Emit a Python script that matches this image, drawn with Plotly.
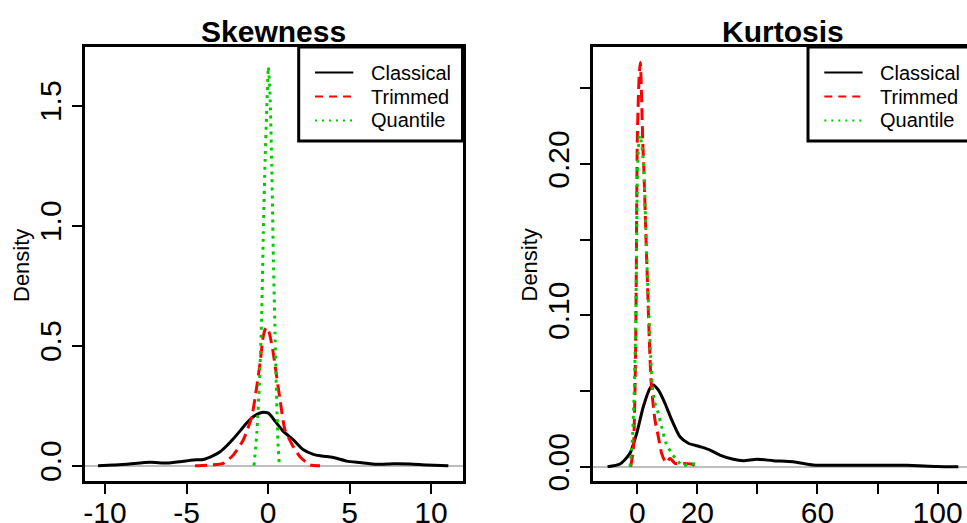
import plotly.graph_objects as go

# ---- Skewness: kernel density estimates of three skewness measures ----
skew_classical_x = [-10.43, -9.5, -8.67, -7.24, -6.21, -5.4, -4.58, -3.97, -3.36, -2.94, -2.5, -2.13,
                    -1.7, -1.31, -0.8, -0.39, 0.02, 0.43, 0.94, 1.55, 2.17, 2.78, 3.2, 3.6, 4.2,
                    4.83, 5.64, 6.67, 7.69, 8.71, 9.74, 11.06]
skew_classical_y = [0.0, 0.003, 0.006, 0.014, 0.011, 0.0165, 0.024, 0.026, 0.042, 0.058, 0.085, 0.112,
                    0.146, 0.178, 0.209, 0.222, 0.219, 0.186, 0.143, 0.108, 0.066, 0.047, 0.041, 0.038,
                    0.031, 0.019, 0.013, 0.0056, 0.008, 0.007, 0.003, 0.0]

skew_trimmed_x = [-4.48, -3.56, -2.74, -2.13, -1.52, -1.0, -0.69, -0.49, -0.29, -0.12, 0.08, 0.29,
                  0.53, 0.74, 1.04, 1.55, 1.96, 2.58, 3.19]
skew_trimmed_y = [0.0, 0.003, 0.01, 0.045, 0.107, 0.204, 0.33, 0.427, 0.54, 0.577, 0.552, 0.482,
                  0.371, 0.274, 0.149, 0.079, 0.0375, 0.003, 0.0]

skew_quantile_x = [-0.86, -0.69, -0.53, -0.39, -0.29, -0.18, -0.08, 0.02, 0.12, 0.23, 0.33, 0.43,
                   0.53, 0.63, 0.70]
skew_quantile_y = [0.0, 0.135, 0.343, 0.62, 0.968, 1.274, 1.482, 1.662, 1.55, 1.246, 0.857, 0.552,
                   0.274, 0.065, 0.0]

# ---- Kurtosis: kernel density estimates of three kurtosis measures ----
kurt_classical_x = [-9.9, -5.76, -2.43, -0.2, 2.0, 4.23, 5.33, 6.99, 9.22, 11.46, 14.2, 17.0, 20.9,
                    24.2, 27.5, 32.0, 35.3, 39.8, 45.3, 51.9, 58.6, 67.5, 80.8, 89.7, 99.7, 106.9]
kurt_classical_y = [0.0, 0.0018, 0.0088, 0.022, 0.0396, 0.0518, 0.054, 0.0507, 0.0419, 0.0309, 0.0198,
                    0.0155, 0.0132, 0.011, 0.0077, 0.0049, 0.004, 0.0049, 0.004, 0.0033, 0.0011,
                    0.0009, 0.0009, 0.0009, 0.0002, 0.0]

kurt_trimmed_x = [-2.2, -1.33, -0.87, -0.53, -0.33, -0.2, 0.0, 0.33, 0.67, 1.0, 1.23, 1.57, 1.8,
                  2.23, 2.9, 3.46, 4.0, 4.56, 5.12, 5.89, 7.0, 8.1, 9.56, 10.9, 12.55, 15.3, 18.1, 20.0]
kurt_trimmed_y = [0.0, 0.011, 0.0396, 0.0837, 0.128, 0.172, 0.216, 0.242, 0.26, 0.267, 0.258, 0.2335,
                  0.216, 0.194, 0.150, 0.117, 0.0837, 0.0573, 0.0441, 0.0309, 0.0198, 0.0088, 0.0026,
                  0.0055, 0.0022, 0.0022, 0.0018, 0.0]

kurt_quantile_x = [-2.43, -1.66, -1.0, -0.53, -0.2, 0.0, 0.33, 0.8, 1.23, 1.8, 2.33, 2.8, 3.33, 3.9,
                   4.46, 5.0, 5.89, 7.0, 8.1, 9.56, 11.45, 13.66, 15.3, 17.0, 19.2, 20.0]
kurt_quantile_y = [0.0, 0.0176, 0.0507, 0.0947, 0.150, 0.189, 0.209, 0.219, 0.216, 0.207, 0.189, 0.161,
                   0.128, 0.099, 0.0727, 0.0529, 0.0419, 0.0353, 0.0264, 0.0155, 0.0088, 0.0033,
                   0.0004, 0.0018, 0.0018, 0.0]

panel_titles = ["Skewness", "Kurtosis"]
series_names = ["Classical", "Trimmed", "Quantile"]
skew_xticks = [-10, -5, 0, 5, 10]
skew_yticks = [0.0, 0.5, 1.0, 1.5]
skew_ytext = ["0.0", "0.5", "1.0", "1.5"]
kurt_xticks = [0, 20, 40, 60, 80, 100]
kurt_xtext = ["0", "20", "", "60", "", "100"]
kurt_yticks = [0.0, 0.05, 0.10, 0.15, 0.20, 0.25]
kurt_ytext = ["0.00", "", "0.10", "", "0.20", ""]

W, H = 967, 523
FONT = "Liberation Sans, Arial, sans-serif"
COLORS = ["#000000", "#FF0000", "#00CD00"]
DASHES = ["solid", "12px,6px", "3px,5px"]
LEGEND_DASHES = ["solid", "8px,6px", "2px,5px"]


def px(x):
    return x / W


def py(y):
    return 1 - y / H


fig = go.Figure()

panels = [
    ("x", "y", [(skew_classical_x, skew_classical_y), (skew_trimmed_x, skew_trimmed_y),
                (skew_quantile_x, skew_quantile_y)]),
    ("x2", "y2", [(kurt_classical_x, kurt_classical_y), (kurt_trimmed_x, kurt_trimmed_y),
                  (kurt_quantile_x, kurt_quantile_y)]),
]
for xa, ya, curves in panels:
    for (xs, ys), name, col, dash in zip(curves, series_names, COLORS, DASHES):
        fig.add_trace(go.Scatter(x=xs, y=ys, mode="lines", name=name, xaxis=xa, yaxis=ya,
                                 line=dict(color=col, width=3, dash=dash, shape="spline",
                                           smoothing=0.6),
                                 showlegend=False, hoverinfo="skip"))

# plot-region geometry (pixels)
L1, R1 = 85.3, 462.5
L2 = 593.3
TOP, BOT = 47.0, 480.5

axis_common = dict(showgrid=False, ticks="outside", ticklen=10, tickwidth=2, tickcolor="black",
                   linecolor="black", linewidth=3, showline=True, automargin=False,
                   tickfont=dict(family=FONT, size=30, color="black"))

fig.update_layout(
    width=W, height=H, margin=dict(l=0, r=0, t=0, b=0, autoexpand=False),
    paper_bgcolor="white", plot_bgcolor="white",
    font=dict(family=FONT, color="black"),
    xaxis=dict(domain=[px(L1), px(R1)], range=[-11.21, 11.93], tickvals=skew_xticks,
               ticktext=[str(v) for v in skew_xticks], tickangle=0, zeroline=False, mirror=True,
               anchor="y", ticklabelstandoff=-7, **axis_common),
    yaxis=dict(domain=[py(BOT), py(TOP)], range=[-0.0617, 1.7446], tickvals=skew_yticks,
               ticktext=skew_ytext, tickangle=-90, zeroline=True, zerolinecolor="#BEBEBE",
               zerolinewidth=1.5, mirror=True, anchor="x", ticklabelstandoff=-1, **axis_common),
    xaxis2=dict(domain=[px(L2), 1.0], range=[-14.65, 109.79], tickvals=kurt_xticks,
                ticktext=kurt_xtext, tickangle=0, zeroline=False, mirror=True, anchor="y2",
                ticklabelstandoff=-7, **axis_common),
    yaxis2=dict(domain=[py(BOT), py(TOP)], range=[-0.00912, 0.2773], tickvals=kurt_yticks,
                ticktext=kurt_ytext, tickangle=-90, zeroline=True, zerolinecolor="#BEBEBE",
                zerolinewidth=1.5, mirror=False, anchor="x2", ticklabelstandoff=-1, **axis_common),
)

shapes = []
annotations = []

# panel titles and y-axis titles
for title, cx in zip(panel_titles, [273.7, 783.0]):
    annotations.append(dict(text=f"<b>{title}</b>", x=px(cx), y=py(31), xref="paper", yref="paper",
                            xanchor="center", yanchor="middle", showarrow=False,
                            font=dict(family=FONT, size=30, color="black")))
for cx in [21.5, 529.0]:
    annotations.append(dict(text="Density", x=px(cx), y=py(265.5), xref="paper", yref="paper",
                            xanchor="center", yanchor="middle", textangle=-90, showarrow=False,
                            font=dict(family=FONT, size=22, color="black")))

# legends (top-right inset boxes); the right one runs past the figure edge
LEG_BOT = 141.0
for bx0, bx1, closed in [(298.7, R1, True), (808.0, W + 6, False)]:
    shapes.append(dict(type="rect", xref="paper", yref="paper", x0=px(bx0), x1=px(bx1),
                       y0=py(LEG_BOT), y1=py(TOP), line=dict(width=0),
                       fillcolor="white", layer="above"))
    edge = (f"M {px(bx1)},{py(TOP)} L {px(bx0)},{py(TOP)} L {px(bx0)},{py(LEG_BOT)} "
            f"L {px(bx1)},{py(LEG_BOT)}")
    if closed:
        edge += " Z"
    shapes.append(dict(type="path", xref="paper", yref="paper", path=edge,
                       line=dict(color="black", width=3), layer="above"))
    for i, (name, col, ldash) in enumerate(zip(series_names, COLORS, LEGEND_DASHES)):
        ry = 72.5 + 24 * i
        shapes.append(dict(type="line", xref="paper", yref="paper", x0=px(bx0 + 16.3),
                           x1=px(bx0 + 54.6), y0=py(ry), y1=py(ry),
                           line=dict(color=col, width=2, dash=ldash), layer="above"))
        annotations.append(dict(text=name, x=px(bx0 + 70.0), y=py(ry), xref="paper", yref="paper",
                                xanchor="left", yanchor="middle", showarrow=False,
                                font=dict(family=FONT, size=20, color="black")))

fig.update_layout(shapes=shapes, annotations=annotations)
fig.write_html("out.html")
